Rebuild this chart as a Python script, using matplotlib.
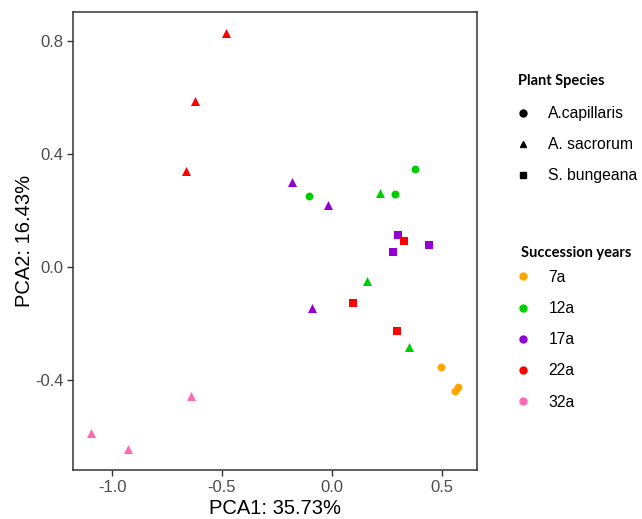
import matplotlib
matplotlib.use("Agg")
import matplotlib.pyplot as plt
from matplotlib.lines import Line2D

plt.rcParams['font.family'] = ['Liberation Sans', 'DejaVu Sans']

# Data: (group, species, PCA1, PCA2)
years = ["7a", "12a", "17a", "22a", "32a"]
year_colors = ["#FFA500", "#00CD00", "#9400D3", "#FF0000", "#FF69B4"]
species = ["A.capillaris", "A. sacrorum", "S. bungeana"]
species_markers = ["o", "^", "s"]

pt_year = ["7a", "7a", "7a",
           "12a", "12a", "12a", "12a", "12a", "12a",
           "17a", "17a", "17a", "17a", "17a", "17a",
           "22a", "22a", "22a", "22a", "22a", "22a",
           "32a", "32a", "32a"]
pt_species = ["A.capillaris", "A.capillaris", "A.capillaris",
              "A.capillaris", "A.capillaris", "A.capillaris",
              "A. sacrorum", "A. sacrorum", "A. sacrorum",
              "A. sacrorum", "A. sacrorum", "A. sacrorum",
              "S. bungeana", "S. bungeana", "S. bungeana",
              "A. sacrorum", "A. sacrorum", "A. sacrorum",
              "S. bungeana", "S. bungeana", "S. bungeana",
              "A. sacrorum", "A. sacrorum", "A. sacrorum"]
pca1 = [0.499, 0.575, 0.561,
        -0.102, 0.287, 0.378,
        0.221, 0.161, 0.352,
        -0.179, -0.018, -0.088,
        0.302, 0.281, 0.445,
        -0.481, -0.624, -0.663,
        0.331, 0.096, 0.299,
        -1.095, -0.928, -0.639]
pca2 = [-0.354, -0.423, -0.438,
        0.252, 0.257, 0.347,
        0.262, -0.051, -0.283,
        0.300, 0.218, -0.146,
        0.112, 0.052, 0.079,
        0.826, 0.586, 0.339,
        0.093, -0.126, -0.226,
        -0.588, -0.644, -0.456]

x_ticks = [-1.0, -0.5, 0.0, 0.5]
y_ticks = [-0.4, 0.0, 0.4, 0.8]

fig = plt.figure(figsize=(6.42, 5.19), dpi=100)
ax = fig.add_axes([0.1142, 0.0938, 0.6283, 0.8825])

sizes = {"o": 32, "^": 42, "s": 30}
cmap = dict(zip(years, year_colors))
mmap = dict(zip(species, species_markers))
for x, y, yr, sp in zip(pca1, pca2, pt_year, pt_species):
    m = mmap[sp]
    ax.scatter([x], [y], c=cmap[yr], marker=m, s=sizes[m], linewidths=0, zorder=3)

ax.set_xlim(-1.177, 0.660)
ax.set_ylim(-0.719, 0.9006)
ax.set_xticks(x_ticks)
ax.set_xticklabels([f"{v:.1f}" for v in x_ticks])
ax.set_yticks(y_ticks)
ax.set_yticklabels([f"{v:.1f}" for v in y_ticks])
ax.tick_params(axis='both', labelsize=12, labelcolor="#4D4D4D", color="#333333",
               length=4, width=1, pad=3)
for s in ax.spines.values():
    s.set_color("#333333")
    s.set_linewidth(1.1)
ax.set_xlabel("PCA1: 35.73%", fontsize=14.5, color="black", labelpad=3)
ax.set_ylabel("PCA2: 16.43%", fontsize=14.5, color="black", labelpad=1)

# Legends
title_kw = dict(family=["Lato", "DejaVu Sans"], weight="bold", size=10.5,
                ha="left", va="center", color="black")
fig.text(518 / 642, 1 - 80.7 / 519, "Plant Species", **title_kw)
fig.text(521 / 642, 1 - 252.7 / 519, "Succession years", **title_kw)

h1 = [Line2D([], [], linestyle="none", marker=m, color="black", markersize=5)
      for m in species_markers]
fig.legend(h1, species, loc="upper left", bbox_to_anchor=(0.8053, 0.7955),
           frameon=False, fontsize=11.3, handlelength=0.8, handletextpad=1.2,
           labelspacing=1.03, borderpad=0, borderaxespad=0)
h2 = [Line2D([], [], linestyle="none", marker="o", color=c, markersize=5)
      for c in year_colors]
fig.legend(h2, years, loc="upper left", bbox_to_anchor=(0.8053, 0.4800),
           frameon=False, fontsize=11.3, handlelength=0.8, handletextpad=1.2,
           labelspacing=1.03, borderpad=0, borderaxespad=0)

fig.savefig("out.png", dpi=100)
